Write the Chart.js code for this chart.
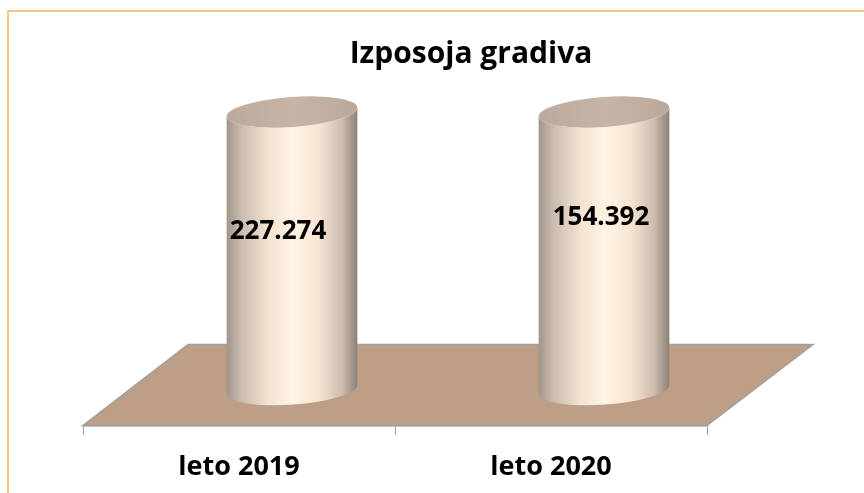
<!DOCTYPE html>
<html>
<head>
<meta charset="utf-8">
<script src="https://cdn.jsdelivr.net/npm/chart.js@4.4.1/dist/chart.umd.min.js"></script>
<style>
  html, body { margin: 0; padding: 0; background: #fff; }
  #wrap { width: 864px; height: 493px; }
</style>
</head>
<body>
<div id="wrap"><canvas id="myChart" width="864" height="493"></canvas></div>
<script>
// data
const chartTitle = 'Izposoja gradiva'
const categories = ['leto 2019', 'leto 2020']
const loans = [227274, 154392]
// value axis is capped below both values, so both cylinders reach the top
const axisMax = 150000
// small hand nudges for the value labels (px)
const labelNudge = [[-14, -19], [-3, -33]]

const depthX = 53, depthY = -36      // bars sit half way back on the floor
const floorX = 106, floorY = -81     // full depth of the floor

function fmt(n) {
    return String(n).replace(/\B(?=(\d{3})+(?!\d))/g, '.')
}

const cylinders = {
    id: 'cylinders',
    beforeDraw(chart) {
        const ctx = chart.ctx
        const ca = chart.chartArea
        ctx.save()
        ctx.fillStyle = '#fff'
        ctx.fillRect(0, 0, chart.width, chart.height)
        // outer frame
        ctx.strokeStyle = '#fac28d'
        ctx.lineWidth = 2
        ctx.beginPath()
        ctx.moveTo(8, chart.height + 2)
        ctx.lineTo(8, 11)
        ctx.lineTo(chart.width + 2, 11)
        ctx.stroke()
        // floor
        ctx.beginPath()
        ctx.moveTo(ca.left, ca.bottom)
        ctx.lineTo(ca.right, ca.bottom)
        ctx.lineTo(ca.right + floorX, ca.bottom + floorY)
        ctx.lineTo(ca.left + floorX - 1, ca.bottom + floorY)
        ctx.closePath()
        ctx.fillStyle = '#bd9e86'
        ctx.fill()
        ctx.strokeStyle = '#a0a0a0'
        ctx.lineWidth = 1.5
        ctx.stroke()
        // title
        ctx.fillStyle = '#000'
        ctx.font = 'bold 30px "Open Sans"'
        ctx.textAlign = 'center'
        ctx.textBaseline = 'alphabetic'
        ctx.fillText(chartTitle, 471, 63)
        ctx.restore()
    },
    afterDatasetsDraw(chart) {
        const ctx = chart.ctx
        const ca = chart.chartArea
        const meta = chart.getDatasetMeta(0)
        const rot = -0.07
        meta.data.forEach(function (bar, i) {
            const cx = bar.x + depthX
            const rx = bar.width / 2
            const ry = 15
            const yTop = Math.max(bar.y, ca.top) + depthY
            const yBot = bar.base + depthY
            const lx = Math.cos(rot) * rx, ly = Math.sin(rot) * rx

            ctx.save()
            const g = ctx.createLinearGradient(cx - rx, 0, cx + rx, 0)
            g.addColorStop(0, '#a3958a')
            g.addColorStop(0.12, '#cbbdb0')
            g.addColorStop(0.32, '#f3e2d0')
            g.addColorStop(0.5, '#fff4e4')
            g.addColorStop(0.7, '#f8e5d3')
            g.addColorStop(0.88, '#cdbdb0')
            g.addColorStop(1, '#8c8077')
            ctx.beginPath()
            ctx.moveTo(cx - lx, yTop - ly)
            ctx.lineTo(cx - lx, yBot - ly)
            ctx.ellipse(cx, yBot, rx, ry, rot, Math.PI, 0, true)
            ctx.lineTo(cx + lx, yTop + ly)
            ctx.ellipse(cx, yTop, rx, ry, rot, 0, Math.PI, false)
            ctx.closePath()
            ctx.fillStyle = g
            ctx.fill()

            const t = ctx.createLinearGradient(cx - rx, 0, cx + rx, 0)
            t.addColorStop(0, '#bba99b')
            t.addColorStop(0.5, '#c6b5a7')
            t.addColorStop(1, '#bba99b')
            ctx.beginPath()
            ctx.ellipse(cx, yTop, rx, ry, rot, 0, Math.PI * 2)
            ctx.fillStyle = t
            ctx.fill()

            // value label
            ctx.fillStyle = '#000'
            ctx.font = 'bold 26px "Open Sans"'
            ctx.textAlign = 'center'
            ctx.textBaseline = 'middle'
            ctx.fillText(fmt(loans[i]), cx + labelNudge[i][0], (yTop + yBot) / 2 + labelNudge[i][1])
            ctx.restore()
        })
    }
}

const ctx = document.getElementById('myChart')
new Chart(ctx, {
    type: 'bar',
    data: {
        labels: categories,
        datasets: [{
            label: chartTitle,
            data: loans,
            backgroundColor: 'rgba(0,0,0,0)',
            borderWidth: 0,
            categoryPercentage: 1,
            barPercentage: 0.42
        }]
    },
    options: {
        responsive: false,
        animation: false,
        layout: { padding: { left: 83, right: 157, top: 148, bottom: -8 } },
        plugins: {
            legend: { display: false },
            tooltip: { enabled: false },
            title: { display: false }
        },
        scales: {
            x: {
                grid: { drawOnChartArea: false, tickLength: 9, color: '#a0a0a0', offset: true },
                border: { color: '#a0a0a0', width: 1.5 },
                ticks: { color: '#000', padding: 17, font: { family: 'Open Sans', size: 27, weight: 'bold' } }
            },
            y: {
                display: false,
                min: 0,
                max: axisMax
            }
        }
    },
    plugins: [cylinders]
})
</script>
</body>
</html>
